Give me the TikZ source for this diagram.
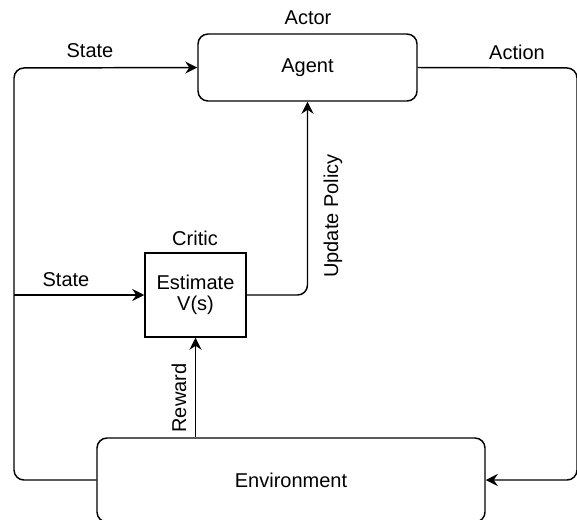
\documentclass[tikz,border=0pt]{standalone}
\usepackage{fontspec}
\setmainfont{Liberation Sans}
\usetikzlibrary{arrows.meta}
\begin{document}
\begin{tikzpicture}[x=0.75pt,y=-0.75pt,
  line width=1.1pt,
  font=\fontsize{15pt}{18pt}\selectfont,
  box/.style={draw,inner sep=0pt,align=center},
  roundbox/.style={box,rounded corners=7.5pt},
  link/.style={-{Stealth[length=9pt,width=9pt,inset=3pt]},rounded corners=7.5pt},
  lbl/.style={inner sep=0pt}]
\useasboundingbox (0,0) rectangle (577,519);

% blocks
\node[roundbox,minimum width=164.25pt,minimum height=50.25pt] (agent) at (307.5,67.5) {Agent};
\node[box,minimum width=75.75pt,minimum height=63pt] (critic) at (195.5,295) {Estimate\\[-2pt]V(s)};
\node[roundbox,minimum width=291pt,minimum height=63pt] (env) at (291,480) {Environment};

% titles above the blocks
\node[lbl] (actor) at (308,18) {Actor};
\node[lbl] (criticlbl) at (195,238) {Critic};

% feedback loops
\coordinate (lefttop) at (14,68);
\coordinate (tap) at (14,295);
\coordinate (rightbot) at (577,480);
\draw[link] (env.west) -- (14,480) -- (lefttop) -- (agent.west);
\draw[link] (agent.east) -- (577,68) -- (rightbot) -- (env.east);
\draw[link] (tap) -- (critic.west);
\draw[link] (critic.east) -- (agent.south |- critic.east) -- (agent.south);
\draw[link] (critic.south |- env.north) -- (critic.south);

% connector labels
\node[lbl] (s1) at (90,51) {State};
\node[lbl] (act) at (517,52) {Action};
\node[lbl] (s2) at (66,280) {State};
\node[lbl,rotate=90] (upd) at (333,216) {Update Policy};
\node[lbl,rotate=90] (rew) at (179,398) {Reward};
\end{tikzpicture}
\end{document}
